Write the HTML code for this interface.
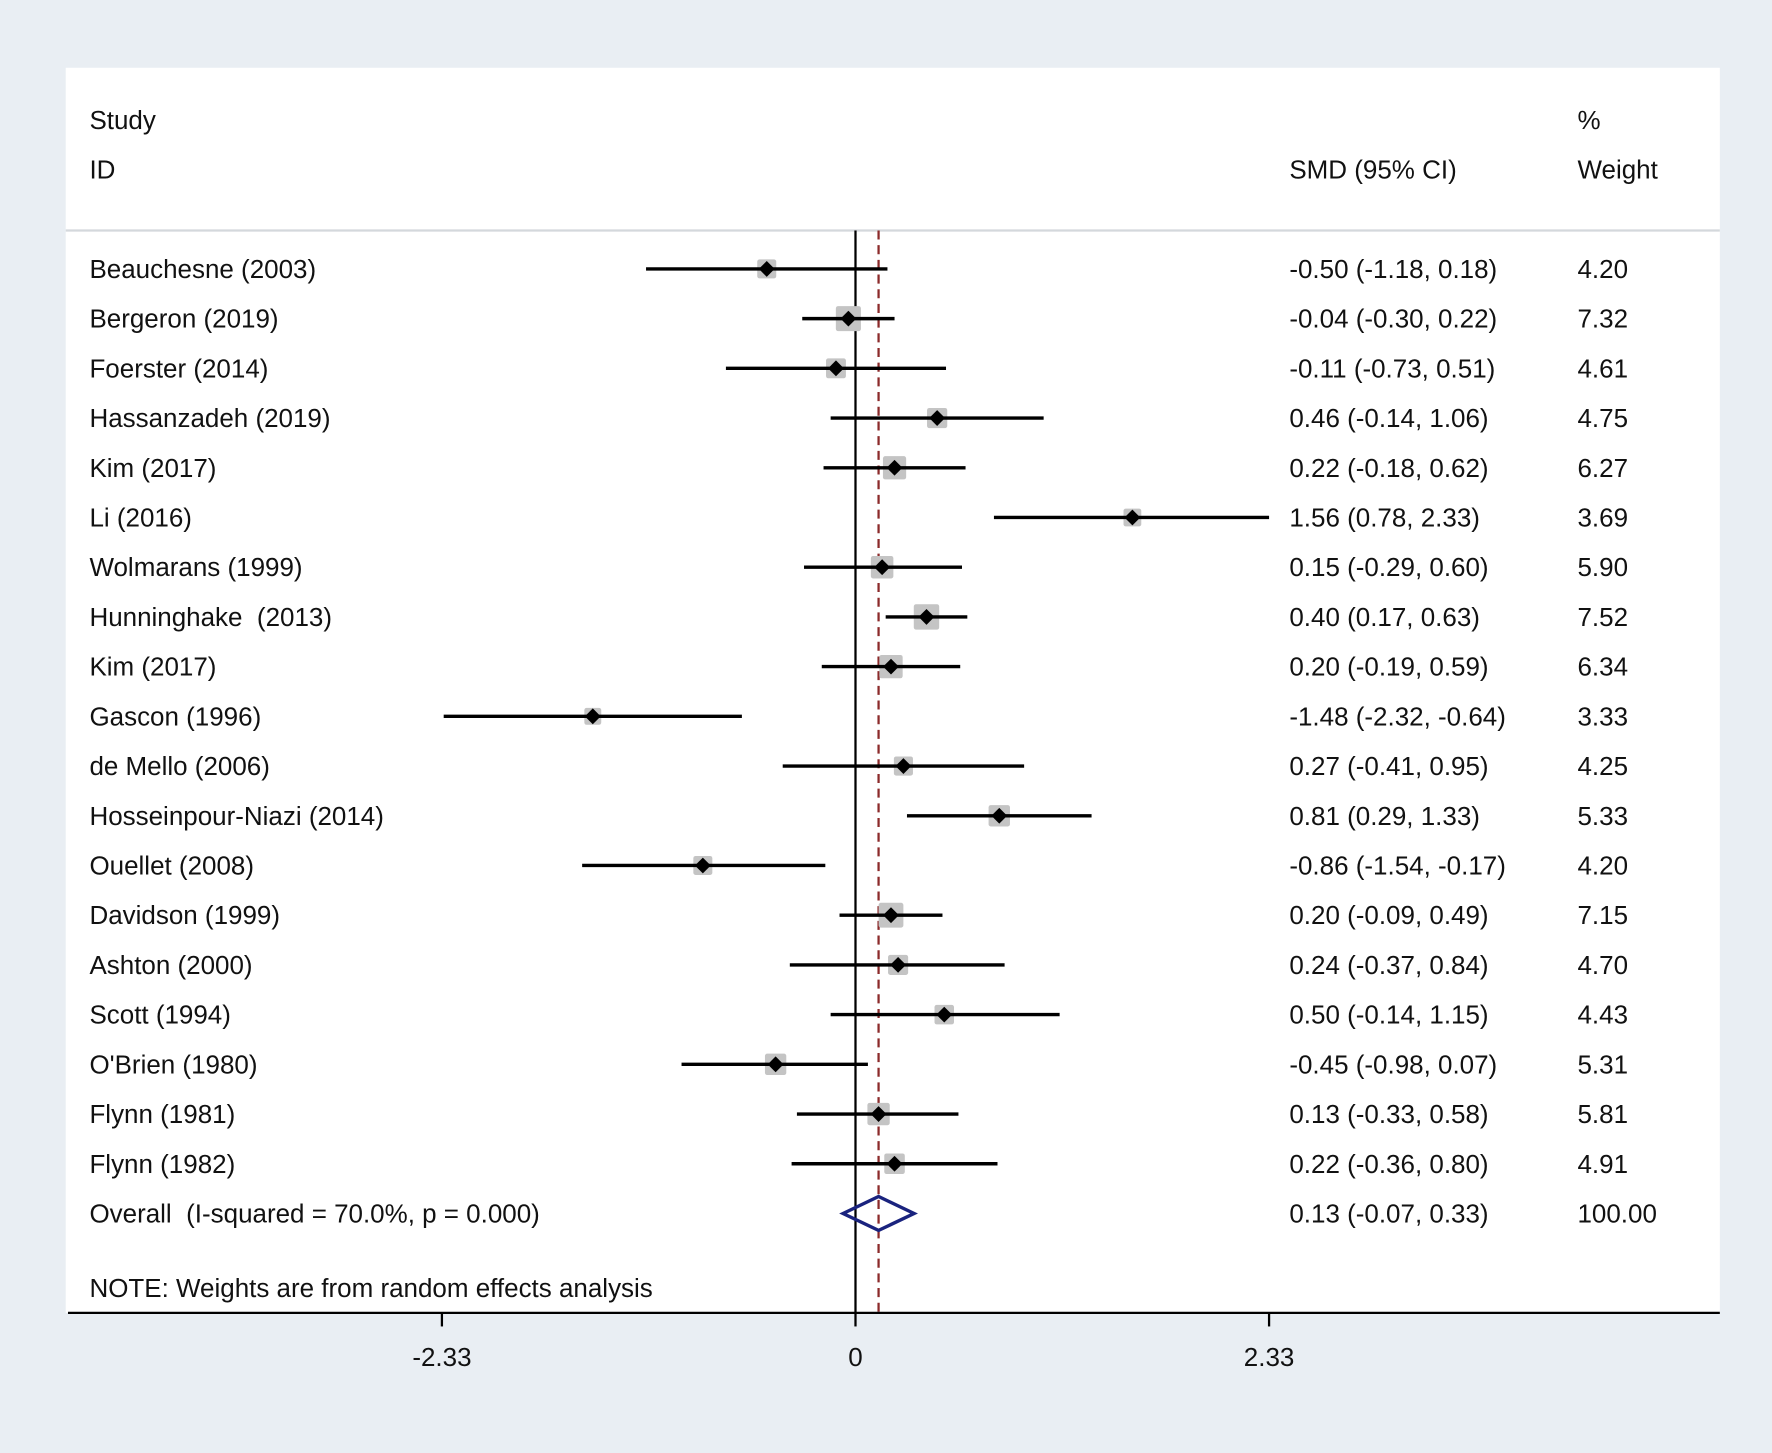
<!DOCTYPE html>
<html><head><meta charset="utf-8"><style>
html,body{margin:0;padding:0;background:#e9eef3;}
svg{display:block;font-family:"Liberation Sans",sans-serif;}
text{white-space:pre;}
</style></head><body>
<svg id="chart" width="1772" height="1453" viewBox="0 0 1568 1286" xmlns="http://www.w3.org/2000/svg">
<rect x="0" y="0" width="1568" height="1286" fill="#e9eef3"/>
<rect x="58" y="60" width="1464" height="1102" fill="#ffffff"/>
<line x1="58" y1="204" x2="1522" y2="204" stroke="#d4d8dc" stroke-width="2"/>
<g font-size="23" fill="#111">
<text x="79" y="114">Study</text>
<text x="79" y="158">ID</text>
<text x="1141" y="158">SMD (95% CI)</text>
<text x="1396" y="114">%</text>
<text x="1396" y="158">Weight</text>
<text x="79" y="1148">NOTE: Weights are from random effects analysis</text>
</g>
<g id="marks"></g>
</svg>
<script>
const studies=["Beauchesne (2003)","Bergeron (2019)","Foerster (2014)","Hassanzadeh (2019)","Kim (2017)","Li (2016)","Wolmarans (1999)","Hunninghake  (2013)","Kim (2017)","Gascon (1996)","de Mello (2006)","Hosseinpour-Niazi (2014)","Ouellet (2008)","Davidson (1999)","Ashton (2000)","Scott (1994)","O'Brien (1980)","Flynn (1981)","Flynn (1982)"];
const est=[-0.50,-0.04,-0.11,0.46,0.22,1.56,0.15,0.40,0.20,-1.48,0.27,0.81,-0.86,0.20,0.24,0.50,-0.45,0.13,0.22];
const lo=[-1.18,-0.30,-0.73,-0.14,-0.18,0.78,-0.29,0.17,-0.19,-2.32,-0.41,0.29,-1.54,-0.09,-0.37,-0.14,-0.98,-0.33,-0.36];
const hi=[0.18,0.22,0.51,1.06,0.62,2.33,0.60,0.63,0.59,-0.64,0.95,1.33,-0.17,0.49,0.84,1.15,0.07,0.58,0.80];
const weights=["4.20","7.32","4.61","4.75","6.27","3.69","5.90","7.52","6.34","3.33","4.25","5.33","4.20","7.15","4.70","4.43","5.31","5.81","4.91"];
const overall=[0.13,-0.07,0.33];
const overallLabel="Overall  (I-squared = 70.0%, p = 0.000)";
const ticks=[-2.33,0,2.33];
const tickLabels=["-2.33","0","2.33"];

const NS="http://www.w3.org/2000/svg";
const g=document.getElementById('marks');
const X=v=>757+v*157.1;
const Y=i=>238+i*44;
const f=v=>v.toFixed(2);
function mk(t,a,parent){const e=document.createElementNS(NS,t);for(const k in a)e.setAttribute(k,a[k]);(parent||g).appendChild(e);return e;}
let e=mk('line',{x1:X(0),y1:204,x2:X(0),y2:1162,stroke:'#000','stroke-width':2});


e=mk('line',{x1:X(overall[0]),y1:204,x2:X(overall[0]),y2:1162,stroke:'#8b2a2a','stroke-width':2,'stroke-dasharray':'8,5'});


studies.forEach((s,i)=>{
  const y=Y(i);
  const sz=8.2*Math.sqrt(parseFloat(weights[i]));
  let b=mk('rect',{x:X(est[i])-sz/2,y:y-sz/2,width:sz,height:sz,fill:'#c4c4c4',rx:2});
  
  
  let l=mk('line',{x1:X(lo[i]),y1:y,x2:X(hi[i]),y2:y,stroke:'#000','stroke-width':3});
  
  
  const c=X(est[i]);
  let d=mk('polygon',{points:`${c-7},${y} ${c},${y-7} ${c+7},${y} ${c},${y+7}`,fill:'#000'});
  
  
  let t1=mk('text',{x:79,y:y+8,'font-size':23,fill:'#111'});t1.textContent=s;
  
  
  let t2=mk('text',{x:1141,y:y+8,'font-size':23,fill:'#111'});t2.textContent=`${f(est[i])} (${f(lo[i])}, ${f(hi[i])})`;
  
  
  let t3=mk('text',{x:1396,y:y+8,'font-size':23,fill:'#111'});t3.textContent=weights[i];
  
  
});
const oy=Y(studies.length);
let dm=mk('polygon',{points:`${X(overall[1])},${oy} ${X(overall[0])},${oy-15} ${X(overall[2])},${oy} ${X(overall[0])},${oy+15}`,fill:'none',stroke:'#1a237e','stroke-width':3});


let ot=mk('text',{x:79,y:oy+8,'font-size':23,fill:'#111'});ot.textContent=overallLabel;


let ov=mk('text',{x:1141,y:oy+8,'font-size':23,fill:'#111'});ov.textContent=`${f(overall[0])} (${f(overall[1])}, ${f(overall[2])})`;


let ow=mk('text',{x:1396,y:oy+8,'font-size':23,fill:'#111'});ow.textContent="100.00";


let ax=mk('line',{x1:60,y1:1162,x2:1522,y2:1162,stroke:'#000','stroke-width':2});


ticks.forEach((t,i)=>{
  let tk=mk('line',{x1:X(t),y1:1162,x2:X(t),y2:1174,stroke:'#000','stroke-width':2});
  
  
  let tl=mk('text',{x:X(t),y:1209,'font-size':23,fill:'#111','text-anchor':'middle'});tl.textContent=tickLabels[i];
  
  
});
</script>
</body></html>
